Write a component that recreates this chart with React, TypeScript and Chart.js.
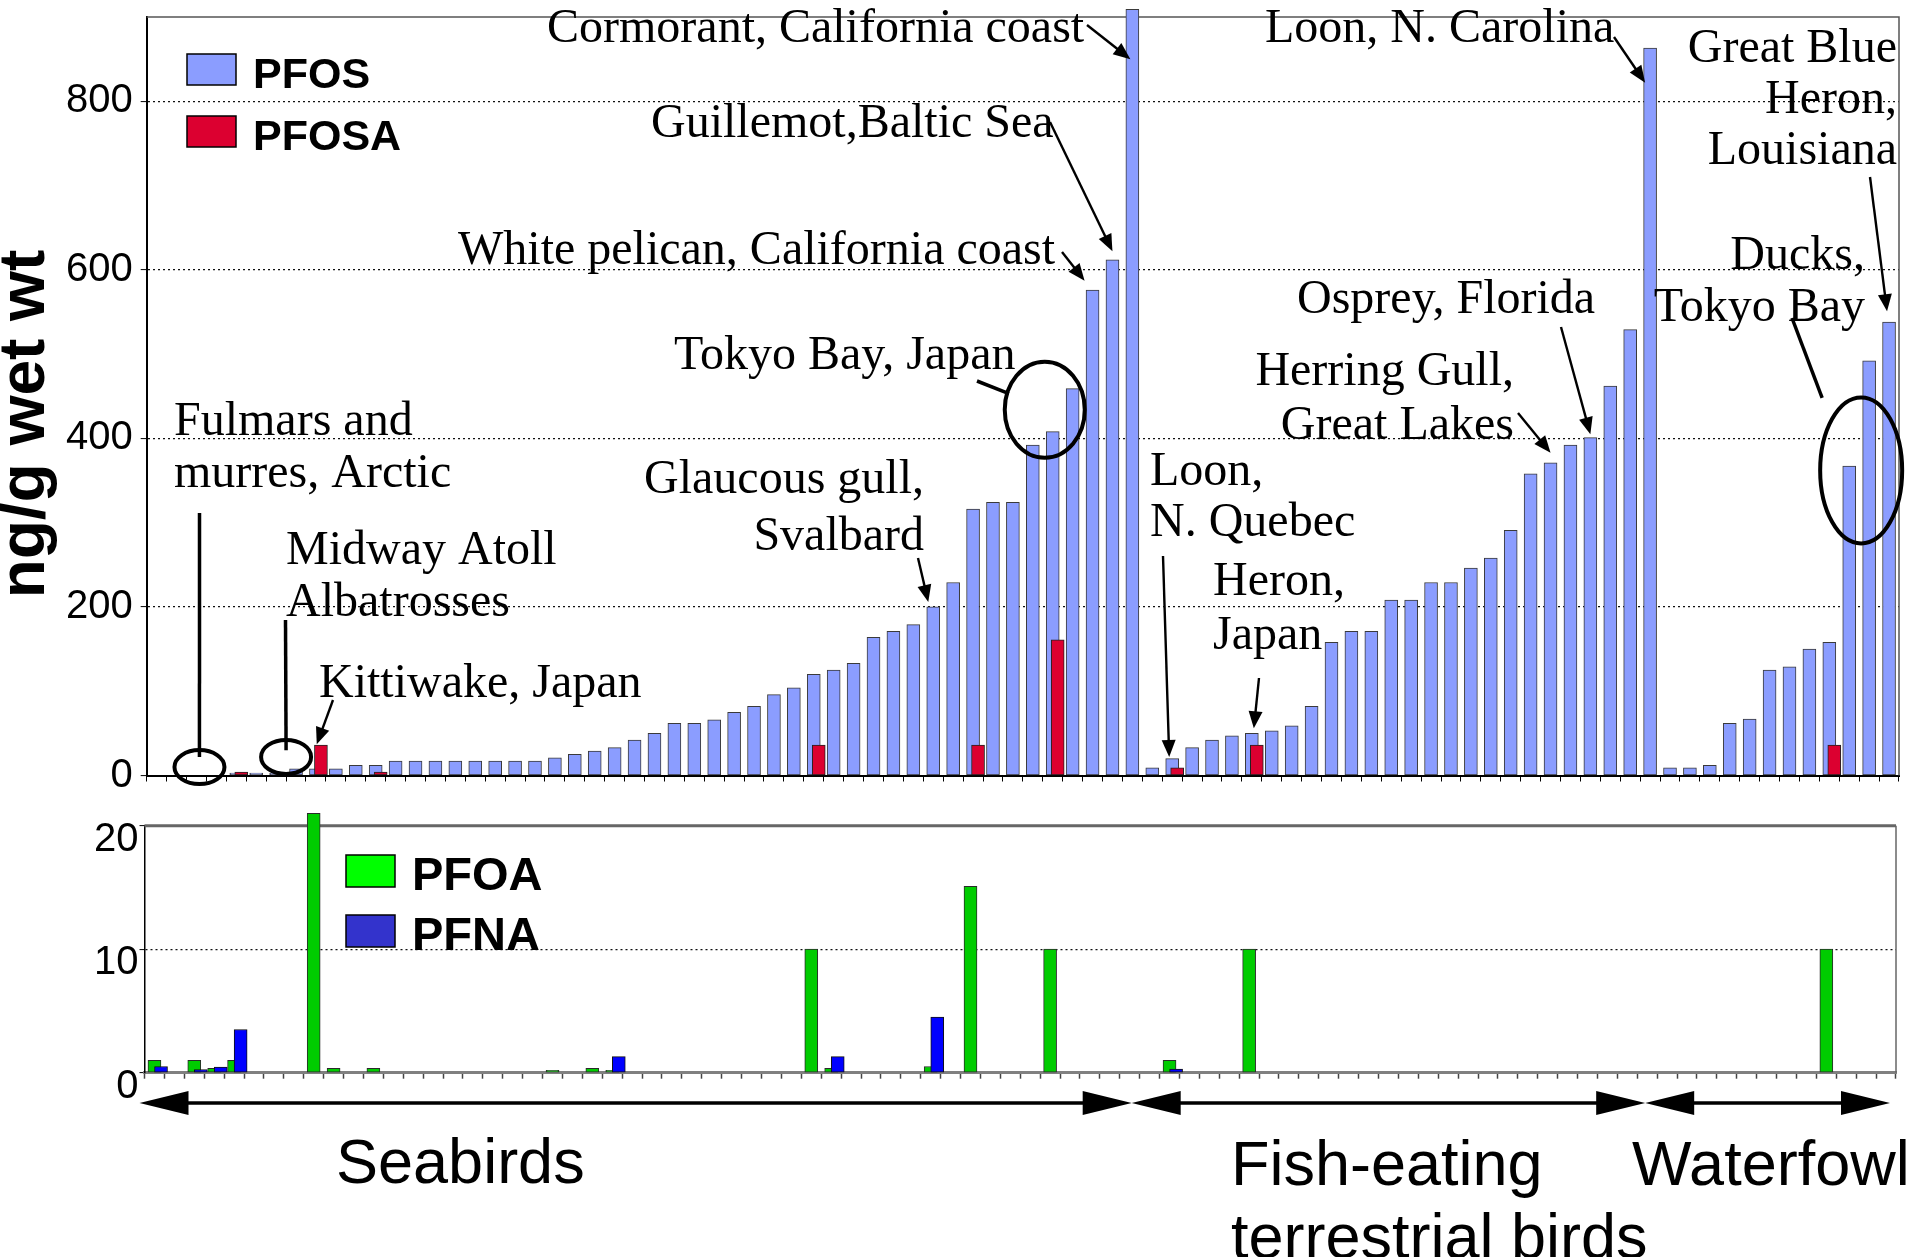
import React, { useEffect, useRef } from "react";
import { Chart, registerables } from "chart.js";

Chart.register(...registerables);

const W = 1915;
const H = 1257;

// ---------------- DATA ----------------
// 88 samples along the x axis (no tick labels are shown)
const categories: string[] = Array.from({ length: 88 }, (_, i) => `S${i + 1}`);

// PFOS (ng/g wet wt), one value per sample
const pfos: (number | null)[] = [
  null, null, null, null, 3, 3, 3, 8, 8, 8, 12, 12, 17, 17, 17, 17, 17, 17, 17, 17,
  21, 25, 29, 33, 42, 50, 62, 62, 66, 75, 82, 96, 104, 120, 125, 133,
  164, 171, 179, 200, 229, 316, 324, 324, 392, 408, 459, 576, 612, 909,
  9, 20, 33, 42, 47, 50, 53, 59, 82, 158, 171, 171, 208, 208, 229, 229, 246, 258, 291, 358, 371, 392, 401, 462, 529, 863,
  9, 9, 12, 62, 67, 125, 129, 150, 158, 367, 492, 538,
];

// PFOSA: sample index -> value
const pfosaIdx = [4, 8, 11, 33, 41, 45, 51, 55, 84];
const pfosaVal = [4, 36, 4, 36, 36, 161, 9, 36, 36];

// PFOA: sample index -> value
const pfoaIdx = [0, 2, 3, 4, 8, 9, 11, 20, 22, 23, 33, 34, 39, 41, 45, 51, 55, 84];
const pfoaVal = [1.0, 1.0, 0.35, 1.0, 21.0, 0.35, 0.35, 0.2, 0.35, 0.2, 10, 0.35, 0.5, 15.1, 10, 1.0, 10, 10];

// PFNA: sample index -> value
const pfnaIdx = [0, 2, 3, 4, 23, 34, 39, 51];
const pfnaVal = [0.5, 0.25, 0.45, 3.5, 1.3, 1.3, 4.5, 0.3];

// axis ticks
const topTicks = { min: 0, max: 900, step: 200 };
const bottomTicks = { min: 0, max: 20, step: 10 };

// bird groups along the x axis (arrow stops in sample units)
const groupNames = ["Seabirds", "Fish-eating\nterrestrial birds", "Waterfowl"];
const groupStops = [-0.75, 49.1, 74.9, 87.2];

// ---------------- STYLE ----------------
const SANS = "'Liberation Sans', Arial, sans-serif";
const SERIF = "'Liberation Serif', 'Times New Roman', serif";
const C_PFOS = "#8B9DFF";
const C_PFOSA = "#DC0030";
const C_PFOA = "#00CC00";
const C_PFOA_LEG = "#00FF00";
const C_PFNA = "#0000FF";
const C_PFNA_LEG = "#3333CC";

const TOP_AREA = { left: 146.7, right: 1899, top: 17, bottom: 775.5 };
const BOT_AREA = { left: 144.5, right: 1896, top: 825.7, bottom: 1072.7 };

type Note = { lines: string[]; x: number; y: number; align?: CanvasTextAlign; lh?: number };
const topNotes: Note[] = [
  { lines: ["Cormorant, California coast"], x: 547, y: 42 },
  { lines: ["Guillemot,Baltic Sea"], x: 651, y: 137 },
  { lines: ["White pelican, California coast"], x: 458, y: 264 },
  { lines: ["Tokyo Bay, Japan"], x: 674, y: 369 },
  { lines: ["Fulmars and", "murres, Arctic"], x: 174, y: 435, lh: 52 },
  { lines: ["Midway Atoll", "Albatrosses"], x: 286, y: 564, lh: 52 },
  { lines: ["Kittiwake, Japan"], x: 319, y: 697 },
  { lines: ["Glaucous gull,", "Svalbard"], x: 924, y: 493, align: "right", lh: 57 },
  { lines: ["Loon,", "N. Quebec"], x: 1150, y: 485, lh: 51 },
  { lines: ["Heron,", "Japan"], x: 1213, y: 595, lh: 54 },
  { lines: ["Herring Gull,", "Great Lakes"], x: 1514, y: 385, align: "right", lh: 54 },
  { lines: ["Osprey, Florida"], x: 1297, y: 313 },
  { lines: ["Loon, N. Carolina"], x: 1265, y: 42 },
  { lines: ["Great Blue", "Heron,", "Louisiana"], x: 1897, y: 62, align: "right", lh: 51 },
  { lines: ["Ducks,", "Tokyo Bay"], x: 1865, y: 269, align: "right", lh: 52 },
];

// pointer: from page pixel -> to (sample position, value)
type Pointer = { from: [number, number]; to: [number, number]; head: boolean; lw?: number };
const topPointers: Pointer[] = [
  { from: [1087, 25], to: [48.9, 850], head: true },
  { from: [1050, 122], to: [48.0, 622], head: true },
  { from: [1062, 252], to: [46.6, 587], head: true },
  { from: [977, 381], to: [42.8, 453], head: false, lw: 3.5 },
  { from: [199.5, 513], to: [2.15, 22], head: false, lw: 3.5 },
  { from: [285.5, 620], to: [6.5, 30], head: false, lw: 3.5 },
  { from: [333, 700], to: [8.04, 37], head: true },
  { from: [918, 558], to: [38.75, 206], head: true },
  { from: [1163, 556], to: [50.85, 22], head: true },
  { from: [1259, 678], to: [55.1, 56], head: true },
  { from: [1518, 413], to: [70.0, 383], head: true },
  { from: [1561, 327], to: [72.0, 405], head: true },
  { from: [1614, 37], to: [74.75, 822], head: true },
  { from: [1870, 177], to: [86.9, 551], head: true },
  { from: [1792, 318], to: [83.64, 448], head: false, lw: 3.5 },
];
// ellipses: (sample position, value) centre, radii in px
const topEllipses = [
  { c: 44.6, v: 434, rx: 40, ry: 48 },
  { c: 2.15, v: 10, rx: 25, ry: 17 },
  { c: 6.5, v: 22, rx: 25, ry: 17 },
  { c: 85.6, v: 362, rx: 41, ry: 73 },
];

function drawArrow(ctx: CanvasRenderingContext2D, x1: number, y1: number, x2: number, y2: number, head: boolean, lw = 2.4) {
  const ang = Math.atan2(y2 - y1, x2 - x1);
  const hl = 17, hw = 7;
  ctx.lineWidth = lw;
  ctx.beginPath();
  ctx.moveTo(x1, y1);
  if (head) ctx.lineTo(x2 - hl * 0.8 * Math.cos(ang), y2 - hl * 0.8 * Math.sin(ang));
  else ctx.lineTo(x2, y2);
  ctx.stroke();
  if (head) {
    const bx = x2 - hl * Math.cos(ang), by = y2 - hl * Math.sin(ang);
    ctx.beginPath();
    ctx.moveTo(x2, y2);
    ctx.lineTo(bx + hw * Math.sin(ang), by - hw * Math.cos(ang));
    ctx.lineTo(bx - hw * Math.sin(ang), by + hw * Math.cos(ang));
    ctx.closePath();
    ctx.fill();
  }
}

function drawNotes(ctx: CanvasRenderingContext2D, notes: Note[]) {
  ctx.font = `48px ${SERIF}`;
  ctx.fillStyle = "#000";
  ctx.textBaseline = "alphabetic";
  notes.forEach((n) => {
    ctx.textAlign = n.align || "left";
    n.lines.forEach((t, i) => ctx.fillText(t, n.x, n.y + i * (n.lh || 52)));
  });
}

function legendItem(ctx: CanvasRenderingContext2D, x: number, y: number, w: number, h: number, fill: string, label: string, size: number) {
  ctx.fillStyle = fill;
  ctx.fillRect(x, y, w, h);
  ctx.strokeStyle = "#000";
  ctx.lineWidth = 1.5;
  ctx.strokeRect(x, y, w, h);
  ctx.fillStyle = "#000";
  ctx.font = `bold ${size}px ${SANS}`;
  ctx.textAlign = "left";
  ctx.textBaseline = "alphabetic";
  ctx.fillText(label, x + w + 17, y + h + 3);
}

const topDecor = {
  id: "topDecor",
  beforeDatasetsDraw(chart: any) {
    const { ctx, chartArea: a } = chart;
    ctx.save();
    ctx.strokeStyle = "#555";
    ctx.lineWidth = 1.5;
    ctx.beginPath();
    ctx.moveTo(a.left, a.top);
    ctx.lineTo(a.right, a.top);
    ctx.lineTo(a.right, a.bottom);
    ctx.stroke();
    ctx.restore();
  },
  afterDraw(chart: any) {
    const { ctx } = chart;
    const xs = chart.scales.x;
    const ys = chart.scales.y;
    ctx.save();
    // y title
    ctx.save();
    ctx.translate(26, 424);
    ctx.rotate(-Math.PI / 2);
    ctx.font = `bold 64px ${SANS}`;
    ctx.fillStyle = "#000";
    ctx.textAlign = "center";
    ctx.textBaseline = "middle";
    ctx.fillText("ng/g wet wt", 0, 0);
    ctx.restore();
    // legend
    legendItem(ctx, 187, 54, 49, 31, C_PFOS, "PFOS", 43);
    legendItem(ctx, 187, 116, 49, 31, C_PFOSA, "PFOSA", 43);
    // notes
    drawNotes(ctx, topNotes);
    ctx.strokeStyle = "#000";
    ctx.fillStyle = "#000";
    ctx.lineCap = "butt";
    topPointers.forEach((p) => {
      drawArrow(ctx, p.from[0], p.from[1], xs.getPixelForValue(p.to[0]), ys.getPixelForValue(p.to[1]), p.head, p.lw || 2.4);
    });
    ctx.lineWidth = 4;
    topEllipses.forEach((e) => {
      ctx.beginPath();
      ctx.ellipse(xs.getPixelForValue(e.c), ys.getPixelForValue(e.v), e.rx, e.ry, 0, 0, Math.PI * 2);
      ctx.stroke();
    });
    ctx.restore();
  },
};

const bottomDecor = {
  id: "bottomDecor",
  beforeDatasetsDraw(chart: any) {
    const { ctx, chartArea: a } = chart;
    ctx.save();
    ctx.strokeStyle = "#666";
    ctx.lineWidth = 3;
    ctx.beginPath();
    ctx.moveTo(a.left, a.top);
    ctx.lineTo(a.right, a.top);
    ctx.stroke();
    ctx.lineWidth = 1.5;
    ctx.beginPath();
    ctx.moveTo(a.right, a.top);
    ctx.lineTo(a.right, a.bottom);
    ctx.stroke();
    ctx.restore();
  },
  afterDraw(chart: any) {
    const { ctx } = chart;
    const xs = chart.scales.x;
    ctx.save();
    legendItem(ctx, 346, 855, 49, 32, C_PFOA_LEG, "PFOA", 47);
    legendItem(ctx, 346, 915, 49, 32, C_PFNA_LEG, "PFNA", 47);
    // group arrows
    const y = 1103, hl = 49, hw = 12;
    ctx.fillStyle = "#000";
    ctx.strokeStyle = "#000";
    ctx.lineWidth = 3.5;
    for (let g = 0; g < groupStops.length - 1; g++) {
      const a = xs.getPixelForValue(groupStops[g]);
      const b = xs.getPixelForValue(groupStops[g + 1]);
      ctx.beginPath();
      ctx.moveTo(a + hl - 2, y);
      ctx.lineTo(b - hl + 2, y);
      ctx.stroke();
      ctx.beginPath();
      ctx.moveTo(a, y);
      ctx.lineTo(a + hl, y - hw);
      ctx.lineTo(a + hl, y + hw);
      ctx.closePath();
      ctx.fill();
      ctx.beginPath();
      ctx.moveTo(b, y);
      ctx.lineTo(b - hl, y - hw);
      ctx.lineTo(b - hl, y + hw);
      ctx.closePath();
      ctx.fill();
    }
    // group labels
    ctx.font = `63px ${SANS}`;
    ctx.textAlign = "left";
    ctx.textBaseline = "alphabetic";
    const pos = [
      [336, 1183],
      [1231, 1185],
      [1632, 1185],
    ];
    groupNames.forEach((name, i) => {
      name.split("\n").forEach((line, j) => ctx.fillText(line, pos[i][0], pos[i][1] + j * 73));
    });
    ctx.restore();
  },
};

const gridColor = (ctx: any) =>
  ctx.tick && ctx.tick.value > ctx.scale.min && ctx.tick.value < ctx.scale.max ? "#111" : "rgba(0,0,0,0)";

const barStyle = {
  borderWidth: 1,
  borderSkipped: false,
  grouped: false,
  maxBarThickness: 13,
  categoryPercentage: 1,
  barPercentage: 1,
  clip: false,
};

function topConfig(): any {
  return {
    type: "bar",
    data: {
      labels: categories,
      datasets: [
        {
          label: "PFOS",
          data: pfos,
          xAxisID: "x",
          backgroundColor: C_PFOS,
          borderColor: "#3a3a3a",
          order: 1,
          ...barStyle,
        },
        {
          label: "PFOSA",
          data: pfosaIdx.map((k, j) => ({ x: k, y: pfosaVal[j] })),
          xAxisID: "xShift",
          backgroundColor: C_PFOSA,
          borderColor: "#222",
          order: 0,
          ...barStyle,
        },
      ],
    },
    options: {
      responsive: false,
      animation: false,
      devicePixelRatio: 1,
      layout: { padding: { left: 0, top: TOP_AREA.top, right: W - TOP_AREA.right, bottom: H - TOP_AREA.bottom - 10 } },
      plugins: { legend: { display: false }, tooltip: { enabled: false } },
      scales: {
        x: {
          type: "category",
          offset: true,
          ticks: { display: false },
          grid: { offset: true, drawOnChartArea: false, drawTicks: true, tickLength: 6, tickColor: "#000", tickWidth: 1 },
          border: { color: "#000", width: 2 },
          afterFit: (s: any) => {
            s.height = 10;
            s.paddingLeft = 0;
            s.paddingRight = 0;
          },
        },
        xShift: {
          type: "linear",
          axis: "x",
          position: "bottom",
          display: false,
          offset: false,
          grid: { offset: false },
          min: -0.5 - 0.25,
          max: categories.length - 0.5 - 0.25,
        },
        y: {
          min: topTicks.min,
          max: topTicks.max,
          ticks: {
            stepSize: topTicks.step,
            includeBounds: false,
            color: "#000",
            padding: 8,
            font: { family: SANS, size: 40 },
          },
          grid: { color: gridColor, lineWidth: 1.2, tickLength: 6, tickColor: "#000", tickWidth: 1 },
          border: { color: "#000", width: 2, dash: [2, 3] },
          afterFit: (s: any) => {
            s.width = TOP_AREA.left;
            s.paddingTop = 0;
            s.paddingBottom = 0;
          },
        },
      },
    },
    plugins: [topDecor],
  };
}

function bottomConfig(): any {
  return {
    type: "bar",
    data: {
      labels: categories,
      datasets: [
        {
          label: "PFOA",
          data: pfoaIdx.map((k, j) => ({ x: categories[k], y: pfoaVal[j] })),
          xAxisID: "x",
          backgroundColor: C_PFOA,
          borderColor: "#2a2a2a",
          order: 1,
          ...barStyle,
        },
        {
          label: "PFNA",
          data: pfnaIdx.map((k, j) => ({ x: k, y: pfnaVal[j] })),
          xAxisID: "xShift",
          backgroundColor: C_PFNA,
          borderColor: "#111",
          order: 0,
          ...barStyle,
        },
      ],
    },
    options: {
      responsive: false,
      animation: false,
      devicePixelRatio: 1,
      layout: { padding: { left: 0, top: BOT_AREA.top, right: W - BOT_AREA.right, bottom: H - BOT_AREA.bottom - 8 } },
      plugins: { legend: { display: false }, tooltip: { enabled: false } },
      scales: {
        x: {
          type: "category",
          offset: true,
          ticks: { display: false },
          grid: { offset: true, drawOnChartArea: false, drawTicks: true, tickLength: 6, tickColor: "#444", tickWidth: 1.5 },
          border: { color: "#808080", width: 3 },
          afterFit: (s: any) => {
            s.height = 8;
            s.paddingLeft = 0;
            s.paddingRight = 0;
          },
        },
        xShift: {
          type: "linear",
          axis: "x",
          position: "bottom",
          display: false,
          offset: false,
          grid: { offset: false },
          min: -0.5 - 0.33,
          max: categories.length - 0.5 - 0.33,
        },
        y: {
          min: bottomTicks.min,
          max: bottomTicks.max,
          ticks: {
            stepSize: bottomTicks.step,
            color: "#000",
            padding: 1,
            labelOffset: 14,
            font: { family: SANS, size: 40 },
          },
          grid: { color: gridColor, lineWidth: 1.2, tickLength: 5, tickColor: "#000", tickWidth: 1 },
          border: { color: "#000", width: 1.5, dash: [2, 3] },
          afterFit: (s: any) => {
            s.width = BOT_AREA.left;
            s.paddingTop = 0;
            s.paddingBottom = 0;
          },
        },
      },
    },
    plugins: [bottomDecor],
  };
}

export default function App() {
  const topRef = useRef<HTMLCanvasElement | null>(null);
  const botRef = useRef<HTMLCanvasElement | null>(null);

  useEffect(() => {
    const c1 = new Chart(topRef.current as HTMLCanvasElement, topConfig());
    const c2 = new Chart(botRef.current as HTMLCanvasElement, bottomConfig());
    return () => {
      c1.destroy();
      c2.destroy();
    };
  }, []);

  const cs: React.CSSProperties = { position: "absolute", left: 0, top: 0, width: W, height: H };
  return (
    <div style={{ position: "fixed", left: 0, top: 0, width: W, height: H, background: "#fff", overflow: "hidden" }}>
      <canvas ref={topRef} width={W} height={H} style={cs} />
      <canvas ref={botRef} width={W} height={H} style={cs} />
    </div>
  );
}
